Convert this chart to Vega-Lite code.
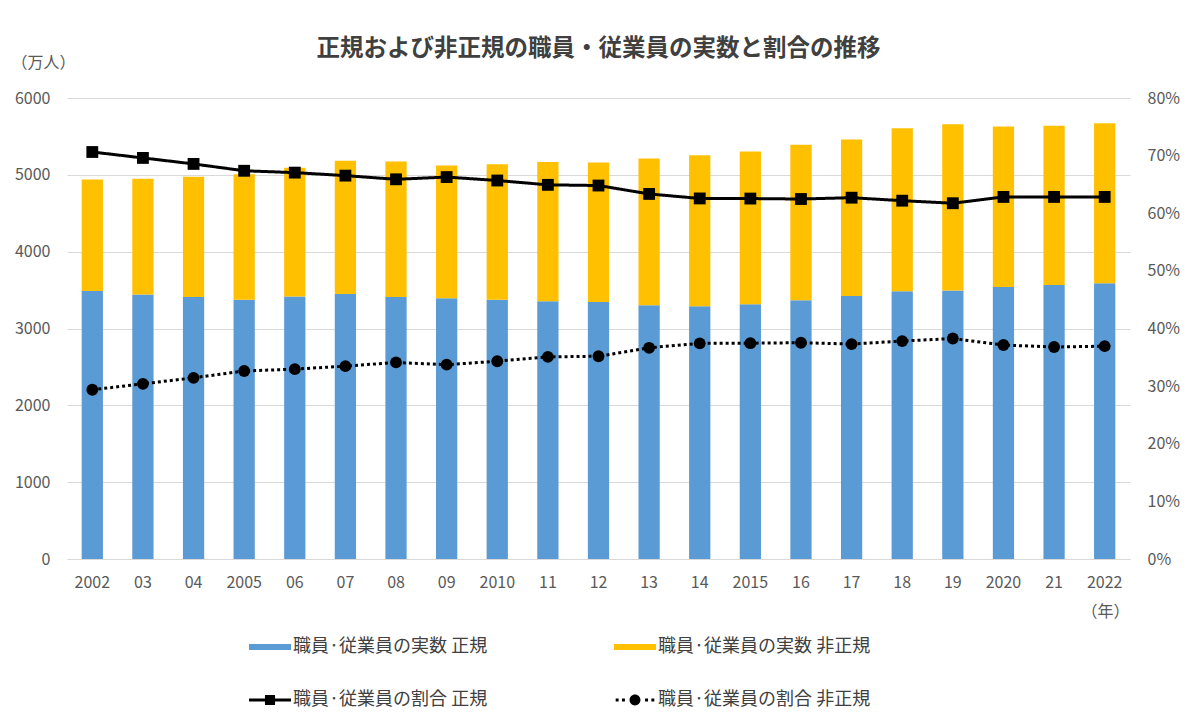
{
  "$schema": "https://vega.github.io/schema/vega-lite/v6.json",
  "width": 1063,
  "height": 461,
  "autosize": "none",
  "padding": {"left": 67, "top": 98, "right": 70, "bottom": 166},
  "title": {
    "text": "正規および非正規の職員・従業員の実数と割合の推移",
    "fontSize": 23.5,
    "fontWeight": "bold",
    "color": "#404040",
    "anchor": "middle",
    "frame": "group",
    "offset": -6
  },
  "data": {
    "values": [
      {"year": "2002", "series": "正規", "count": 3489, "ratio": 0.7063},
      {"year": "2002", "series": "非正規", "count": 1451, "ratio": 0.2937},
      {"year": "03", "series": "正規", "count": 3444, "ratio": 0.6960},
      {"year": "03", "series": "非正規", "count": 1504, "ratio": 0.3040},
      {"year": "04", "series": "正規", "count": 3410, "ratio": 0.6856},
      {"year": "04", "series": "非正規", "count": 1564, "ratio": 0.3144},
      {"year": "2005", "series": "正規", "count": 3374, "ratio": 0.6737},
      {"year": "2005", "series": "非正規", "count": 1634, "ratio": 0.3263},
      {"year": "06", "series": "正規", "count": 3415, "ratio": 0.6705},
      {"year": "06", "series": "非正規", "count": 1678, "ratio": 0.3295},
      {"year": "07", "series": "正規", "count": 3449, "ratio": 0.6653},
      {"year": "07", "series": "非正規", "count": 1735, "ratio": 0.3347},
      {"year": "08", "series": "正規", "count": 3410, "ratio": 0.6589},
      {"year": "08", "series": "非正規", "count": 1765, "ratio": 0.3411},
      {"year": "09", "series": "正規", "count": 3395, "ratio": 0.6628},
      {"year": "09", "series": "非正規", "count": 1727, "ratio": 0.3372},
      {"year": "2010", "series": "正規", "count": 3374, "ratio": 0.6568},
      {"year": "2010", "series": "非正規", "count": 1763, "ratio": 0.3432},
      {"year": "11", "series": "正規", "count": 3355, "ratio": 0.6493},
      {"year": "11", "series": "非正規", "count": 1812, "ratio": 0.3507},
      {"year": "12", "series": "正規", "count": 3345, "ratio": 0.6481},
      {"year": "12", "series": "非正規", "count": 1816, "ratio": 0.3519},
      {"year": "13", "series": "正規", "count": 3302, "ratio": 0.6335},
      {"year": "13", "series": "非正規", "count": 1910, "ratio": 0.3665},
      {"year": "14", "series": "正規", "count": 3288, "ratio": 0.6257},
      {"year": "14", "series": "非正規", "count": 1967, "ratio": 0.3743},
      {"year": "2015", "series": "正規", "count": 3317, "ratio": 0.6255},
      {"year": "2015", "series": "非正規", "count": 1986, "ratio": 0.3745},
      {"year": "16", "series": "正規", "count": 3367, "ratio": 0.6247},
      {"year": "16", "series": "非正規", "count": 2023, "ratio": 0.3753},
      {"year": "17", "series": "正規", "count": 3423, "ratio": 0.6270},
      {"year": "17", "series": "非正規", "count": 2036, "ratio": 0.3730},
      {"year": "18", "series": "正規", "count": 3485, "ratio": 0.6218},
      {"year": "18", "series": "非正規", "count": 2120, "ratio": 0.3782},
      {"year": "19", "series": "正規", "count": 3494, "ratio": 0.6174},
      {"year": "19", "series": "非正規", "count": 2165, "ratio": 0.3826},
      {"year": "2020", "series": "正規", "count": 3539, "ratio": 0.6283},
      {"year": "2020", "series": "非正規", "count": 2090, "ratio": 0.3713},
      {"year": "21", "series": "正規", "count": 3565, "ratio": 0.6283},
      {"year": "21", "series": "非正規", "count": 2075, "ratio": 0.3679},
      {"year": "2022", "series": "正規", "count": 3588, "ratio": 0.6283},
      {"year": "2022", "series": "非正規", "count": 2082, "ratio": 0.3693}
    ]
  },
  "encoding": {
    "x": {
      "field": "year",
      "type": "ordinal",
      "sort": null,
      "scale": {"paddingInner": 0.58, "paddingOuter": 0.29},
      "axis": {
        "labelAngle": 0,
        "labelPadding": 15,
        "domain": true,
        "domainColor": "#d9d9d9",
        "domainWidth": 1,
        "grid": false,
        "title": "（年）",
        "titleX": 1038,
        "titleY": 52,
        "titleAlign": "center",
        "titleBaseline": "middle"
      }
    }
  },
  "layer": [
    {
      "mark": {"type": "bar"},
      "encoding": {
        "y": {
          "field": "count",
          "type": "quantitative",
          "stack": "zero",
          "scale": {"domain": [0, 6000]},
          "axis": {
            "values": [0, 1000, 2000, 3000, 4000, 5000, 6000],
            "format": "d",
            "grid": true,
            "labelPadding": 17,
            "title": "（万人）",
            "titleAngle": 0,
            "titleAlign": "left",
            "titleBaseline": "middle",
            "titleX": -56,
            "titleY": -36
          }
        },
        "color": {
          "field": "series",
          "type": "nominal",
          "scale": {"domain": ["正規", "非正規"], "range": ["#5b9bd5", "#ffc000"]},
          "legend": {
            "orient": "none",
            "legendX": 182,
            "legendY": 528,
            "direction": "horizontal",
            "columns": 2,
            "columnPadding": 126,
            "title": null,
            "symbolType": "M-1,-0.14H1V0.14H-1Z",
            "symbolSize": 1764,
            "symbolStrokeWidth": 0,
            "labelOffset": 2,
            "labelLimit": 400,
            "labelExpr": "'職員·従業員の実数 ' + datum.label"
          }
        },
        "order": {"field": "series", "sort": "ascending"}
      }
    },
    {
      "encoding": {
        "y": {
          "field": "ratio",
          "type": "quantitative",
          "scale": {"domain": [0, 0.8]},
          "axis": {
            "orient": "right",
            "values": [0, 0.1, 0.2, 0.3, 0.4, 0.5, 0.6, 0.7, 0.8],
            "format": ".0%",
            "grid": false,
            "labelPadding": 17,
            "title": null
          }
        }
      },
      "layer": [
        {
          "mark": {"type": "line", "color": "black", "strokeWidth": 3},
          "encoding": {
            "detail": {"field": "series", "type": "nominal"},
            "strokeDash": {
              "field": "series",
              "type": "nominal",
              "scale": {"domain": ["正規", "非正規"], "range": [[1, 0], [3, 3]]},
              "legend": null
            }
          }
        },
        {
          "mark": {"type": "point", "filled": true, "color": "black", "opacity": 1, "size": 140},
          "encoding": {
            "shape": {
              "field": "series",
              "type": "nominal",
              "scale": {"domain": ["正規", "非正規"], "range": ["square", "circle"]},
              "legend": null
            }
          }
        },
        {
          "mark": {"type": "point", "filled": true, "color": "black", "opacity": 0},
          "encoding": {
            "shape": {
              "field": "series",
              "type": "nominal",
              "scale": {
                "domain": ["正規", "非正規"],
                "range": [
                  "M-1,-0.07H1V0.07H-1Z M-0.24,-0.24H0.24V0.24H-0.24Z",
                  "M-0.92,-0.07h0.14v0.14h-0.14Z M-0.62,-0.07h0.14v0.14h-0.14Z M0.48,-0.07h0.14v0.14h-0.14Z M0.78,-0.07h0.14v0.14h-0.14Z M-0.26,0A0.26,0.26 0 1,1 0.26,0A0.26,0.26 0 1,1 -0.26,0Z"
                ]
              },
              "legend": {
                "orient": "none",
                "legendX": 182,
                "legendY": 581,
                "direction": "horizontal",
                "columns": 2,
                "columnPadding": 126,
                "title": null,
                "symbolSize": 1764,
                "symbolOpacity": 1,
                "symbolFillColor": "black",
                "symbolStrokeWidth": 0,
                "labelOffset": 2,
                "labelLimit": 400,
                "labelExpr": "'職員·従業員の割合 ' + datum.label"
              }
            }
          }
        }
      ],
      "resolve": {"scale": {"shape": "independent"}}
    }
  ],
  "resolve": {"scale": {"y": "independent"}},
  "config": {
    "font": "Noto Sans CJK JP",
    "view": {"stroke": null},
    "axis": {
      "labelColor": "#595959",
      "labelFontSize": 16,
      "labelFont": "Noto Sans CJK JP",
      "titleColor": "#595959",
      "titleFontSize": 16,
      "titleFontWeight": "normal",
      "ticks": false,
      "domain": false,
      "gridColor": "#d9d9d9",
      "gridWidth": 1
    },
    "legend": {
      "labelColor": "#404040",
      "labelFontSize": 18,
      "padding": 0,
      "rowPadding": 0
    }
  }
}
